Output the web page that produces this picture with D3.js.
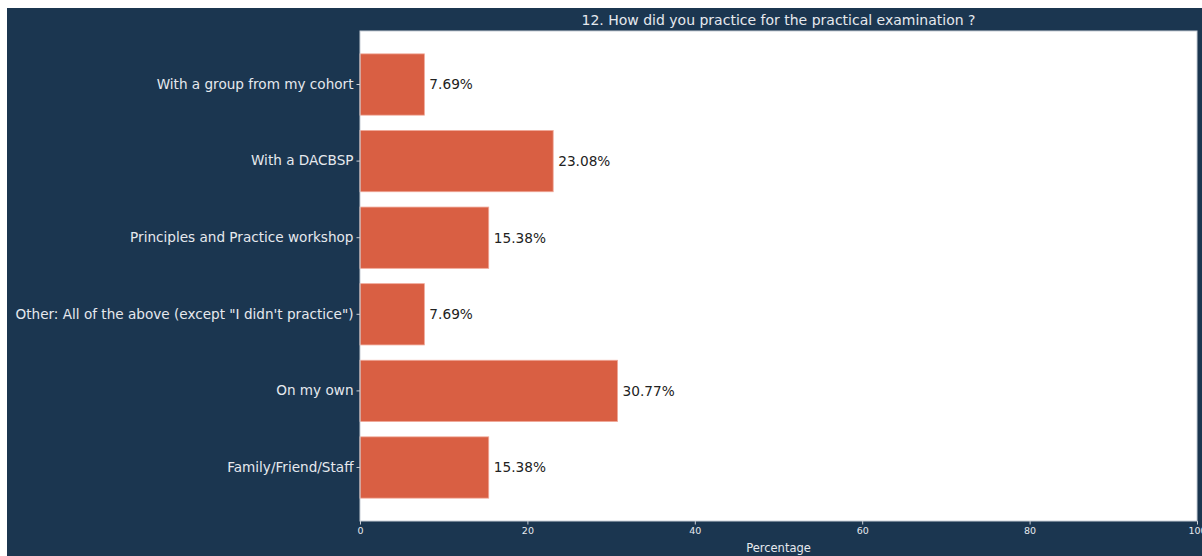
<!DOCTYPE html>
<html>
<head>
<meta charset="utf-8">
<script src="https://cdn.jsdelivr.net/npm/d3@7"></script>
<style>
  html, body { margin: 0; padding: 0; background: #ffffff; }
  svg { display: block; font-family: "DejaVu Sans", sans-serif; }
</style>
</head>
<body>
<svg id="chart" width="1202" height="556"></svg>
<script>
// Survey answers, listed top to bottom
const categories = [
  "With a group from my cohort",
  "With a DACBSP",
  "Principles and Practice workshop",
  "Other: All of the above (except \"I didn't practice\")",
  "On my own",
  "Family/Friend/Staff"
];
const percentages = [7.69, 23.08, 15.38, 7.69, 30.77, 15.38];
const xTicks = [0, 20, 40, 60, 80, 100];

const titleText = "12. How did you practice for the practical examination ?";
const xLabelText = "Percentage";

const W = 1202, H = 556;
const plot = { left: 360, right: 1197, top: 31, bottom: 521 };
const bg = "#1b3650";
const barColor = "#d95f43";
const lightText = "#e6e9ee";

const svg = d3.select("#chart");

// Figure background
svg.append("rect").attr("x", 7).attr("y", 8).attr("width", W - 7).attr("height", H - 8).attr("fill", bg);

// Plot area
svg.append("rect")
  .attr("x", plot.left).attr("y", plot.top)
  .attr("width", plot.right - plot.left).attr("height", plot.bottom - plot.top)
  .attr("fill", "#ffffff");

const x = d3.scaleLinear().domain([0, 100]).range([plot.left, plot.right]);
const y = d3.scaleBand().domain(categories).range([plot.top, plot.bottom])
  .paddingInner(0.2).paddingOuter(0.2985);

const data = categories.map((c, i) => ({ cat: c, val: percentages[i] }));

// Bars
svg.append("g").selectAll("rect").data(data).join("rect")
  .attr("x", x(0))
  .attr("y", d => y(d.cat))
  .attr("width", d => x(d.val) - x(0))
  .attr("height", y.bandwidth())
  .attr("fill", barColor)
  .attr("stroke", "#f0a898")
  .attr("stroke-width", 0.8);

// Value labels
svg.append("g").selectAll("text").data(data).join("text")
  .attr("x", d => x(d.val) + 5)
  .attr("y", d => y(d.cat) + y.bandwidth() / 2)
  .attr("dy", "0.36em")
  .attr("font-size", 13.7)
  .attr("fill", "#222222")
  .text(d => d.val.toFixed(2) + "%");

// Frame (spines)
svg.append("rect")
  .attr("x", plot.left).attr("y", plot.top)
  .attr("width", plot.right - plot.left).attr("height", plot.bottom - plot.top)
  .attr("fill", "none").attr("stroke", "#c8ced6").attr("stroke-width", 1);

// X axis
const xAxis = svg.append("g")
  .attr("transform", `translate(0,${plot.bottom})`)
  .call(d3.axisBottom(x).tickValues(xTicks).tickSize(3.5).tickPadding(3).tickFormat(d3.format("d")));
xAxis.select(".domain").remove();
xAxis.selectAll(".tick line").attr("stroke", "#c8ced6");
xAxis.selectAll(".tick text").attr("fill", lightText).attr("font-size", 9.5).attr("font-family", "DejaVu Sans");

// Y axis
const yAxis = svg.append("g")
  .attr("transform", `translate(${plot.left},0)`)
  .call(d3.axisLeft(y).tickSize(3.5).tickPadding(3));
yAxis.select(".domain").remove();
yAxis.selectAll(".tick line").attr("stroke", "#c8ced6");
yAxis.selectAll(".tick text").attr("fill", lightText).attr("font-size", 13.6).attr("font-family", "DejaVu Sans");

// Title
svg.append("text")
  .attr("x", (plot.left + plot.right) / 2)
  .attr("y", 25)
  .attr("text-anchor", "middle")
  .attr("font-size", 14)
  .attr("fill", lightText)
  .text(titleText);

// X axis label
svg.append("text")
  .attr("x", (plot.left + plot.right) / 2)
  .attr("y", 552)
  .attr("text-anchor", "middle")
  .attr("font-size", 11.5)
  .attr("fill", lightText)
  .text(xLabelText);
</script>
</body>
</html>
